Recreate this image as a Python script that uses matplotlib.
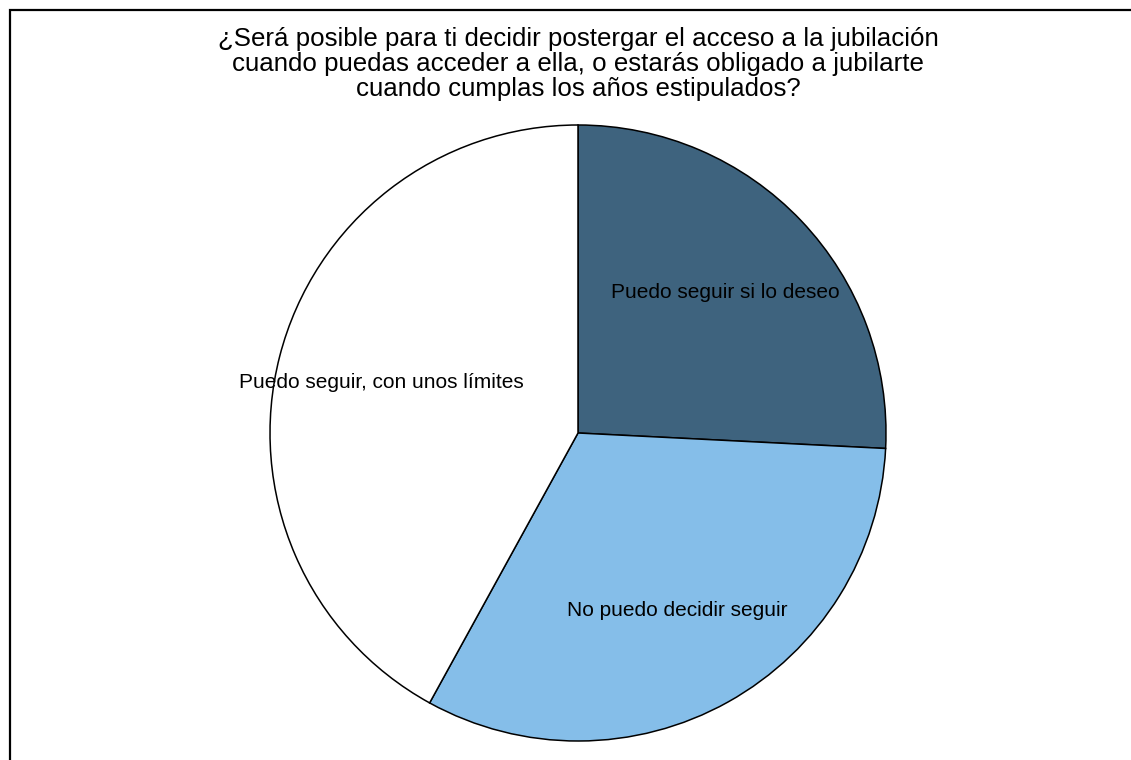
import matplotlib
matplotlib.use("Agg")
import matplotlib.pyplot as plt
from matplotlib.patches import Rectangle

plt.rcParams['font.family'] = ['Liberation Sans', 'DejaVu Sans']

# respuestas (porcentaje)
labels = ['Puedo seguir si lo deseo', 'No puedo decidir seguir', 'Puedo seguir, con unos límites']
values = [25.8, 32.2, 42.0]
colors = ['#3e637e', '#85bee9', '#ffffff']
title = ('¿Será posible para ti decidir postergar el acceso a la jubilación\n'
         'cuando puedas acceder a ella, o estarás obligado a jubilarte\n'
         'cuando cumplas los años estipulados?')

W, H = 1131, 760
fig = plt.figure(figsize=(W / 100, H / 100), dpi=100)

# caja exterior (solo se ven borde izquierdo y superior)
fig.patches.append(Rectangle((10 / W, -0.5), 2, (H - 10) / H + 0.5, transform=fig.transFigure,
                             fill=False, edgecolor='black', linewidth=1.6))

cx, cy, r = 578, 760 - 433, 308
ax = fig.add_axes([(cx - r) / W, (cy - r) / H, 2 * r / W, 2 * r / H])
wedges, texts = ax.pie(values, labels=labels, colors=colors, startangle=90, counterclock=False,
                       labeldistance=0.66,
                       wedgeprops=dict(edgecolor='black', linewidth=1.1),
                       textprops=dict(fontsize=15, ha='center', va='center'))
ax.set_xlim(-1, 1)
ax.set_ylim(-1, 1)
ax.set_aspect('equal')
ax.axis('off')

fig.text(cx / W, (H - 64) / H, title, ha='center', va='center', fontsize=18.6, linespacing=1.05)

fig.savefig('out.png', dpi=100)
